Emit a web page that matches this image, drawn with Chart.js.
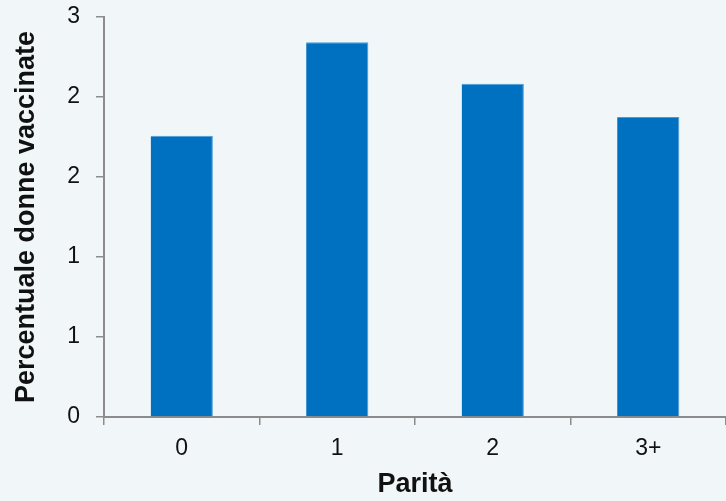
<!DOCTYPE html>
<html>
<head>
<meta charset="utf-8">
<script src="https://cdn.jsdelivr.net/npm/chart.js@4.4.1/dist/chart.umd.min.js"></script>
<style>
  html, body { margin: 0; padding: 0; background: #f1f7f9; }
  #wrap { width: 726px; height: 501px; }
</style>
</head>
<body>
<div id="wrap"><canvas id="parityChart"></canvas></div>
<script>
// vaccinated women by parity
const categories = ["0", "1", "2", "3+"];
const vaccinatedPct = [2.11, 2.81, 2.50, 2.25];
const yTickLabels = ["0", "1", "1", "2", "2", "3"];

const axisGray = "#8c8c8c";
const family = "'Liberation Sans', Arial, sans-serif";
const tickFont = { family: family, size: 23 };
const titleFont = { family: family, size: 27, weight: "bold" };

const ctx = document.getElementById("parityChart").getContext("2d");

new Chart(ctx, {
  type: "bar",
  data: {
    labels: categories,
    datasets: [
      {
        data: vaccinatedPct,
        backgroundColor: "#0070c0",
        borderColor: "#4a9ad6",
        borderWidth: { top: 1, right: 1, left: 0, bottom: 0 },
        borderSkipped: false,
        categoryPercentage: 1.0,
        barPercentage: 0.4
      }
    ]
  },
  options: {
    responsive: true,
    maintainAspectRatio: false,
    animation: false,
    layout: { padding: 0 },
    plugins: {
      legend: { display: false },
      tooltip: { enabled: false }
    },
    scales: {
      x: {
        afterFit: scale => { scale.height = 84; },
        grid: {
          offset: true,
          drawOnChartArea: false,
          drawTicks: true,
          tickLength: 8,
          color: axisGray,
          lineWidth: 1.5
        },
        border: { color: axisGray, width: 2 },
        ticks: { color: "#111", font: tickFont, padding: 10 },
        title: {
          display: true,
          text: "Parità",
          color: "#111",
          font: titleFont,
          padding: { top: 0, bottom: 0 }
        }
      },
      y: {
        min: 0,
        max: 3,
        afterFit: scale => {
          scale.width = 104;
          scale.paddingTop = 17;
        },
        grid: {
          drawOnChartArea: false,
          drawTicks: true,
          tickLength: 8,
          color: axisGray,
          lineWidth: 1.5
        },
        border: { color: axisGray, width: 2 },
        ticks: {
          stepSize: 0.6,
          color: "#111",
          font: tickFont,
          padding: 16,
          callback: (value, i) => yTickLabels[i]
        },
        title: {
          display: true,
          text: "Percentuale donne vaccinate",
          color: "#111",
          font: titleFont,
          padding: { top: 10, bottom: 0 }
        }
      }
    }
  }
});
</script>
</body>
</html>
